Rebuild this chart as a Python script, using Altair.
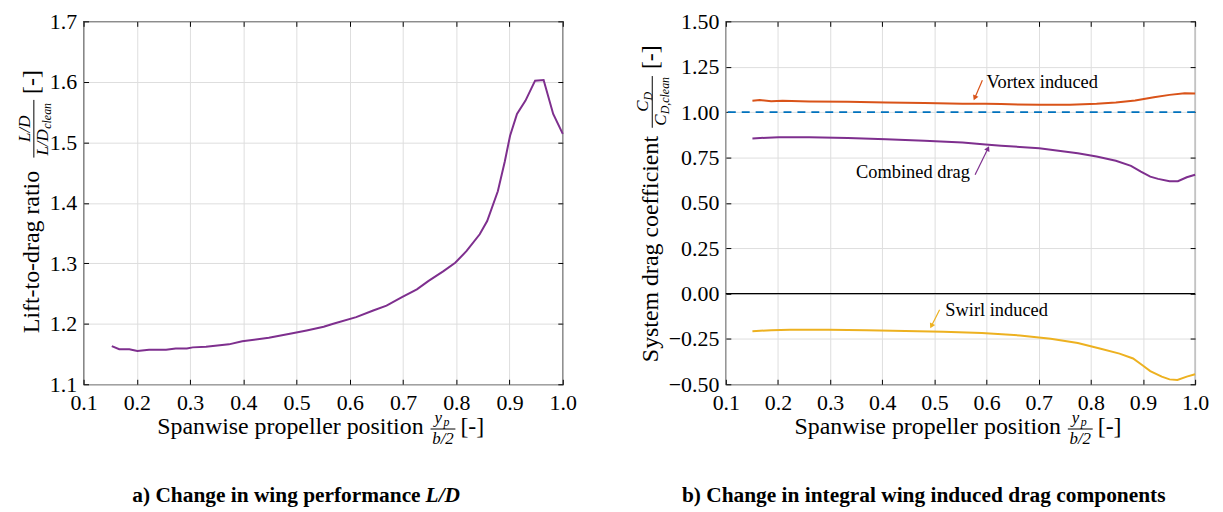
import math
import altair as alt
import pandas as pd

# ---------------- data ----------------
ld_x = [0.153, 0.167, 0.186, 0.201, 0.223, 0.255, 0.273, 0.294, 0.305, 0.330, 0.373, 0.398,
        0.448, 0.490, 0.519, 0.551, 0.569, 0.612, 0.644, 0.669, 0.698, 0.726, 0.748, 0.776,
        0.798, 0.819, 0.844, 0.858, 0.878, 0.891, 0.901, 0.914, 0.930, 0.948, 0.964, 0.982, 1.000]
ld_y = [1.163, 1.158, 1.158, 1.155, 1.157, 1.157, 1.159, 1.159, 1.161, 1.162, 1.166, 1.171,
        1.177, 1.184, 1.189, 1.195, 1.200, 1.211, 1.222, 1.230, 1.244, 1.257, 1.271, 1.287,
        1.301, 1.320, 1.348, 1.370, 1.419, 1.468, 1.511, 1.547, 1.569, 1.602, 1.603, 1.547, 1.514]

vortex_x = [0.151, 0.165, 0.187, 0.209, 0.260, 0.334, 0.407, 0.481, 0.554, 0.598, 0.628,
            0.701, 0.760, 0.811, 0.848, 0.885, 0.921, 0.951, 0.980, 1.000]
vortex_y = [1.062, 1.066, 1.060, 1.062, 1.059, 1.057, 1.053, 1.050, 1.046, 1.046, 1.044,
            1.040, 1.040, 1.046, 1.053, 1.064, 1.082, 1.095, 1.104, 1.102]

combined_x = [0.151, 0.201, 0.260, 0.334, 0.407, 0.481, 0.554, 0.598, 0.628, 0.701, 0.775,
              0.811, 0.848, 0.877, 0.896, 0.914, 0.929, 0.951, 0.967, 0.984, 1.000]
combined_y = [0.855, 0.862, 0.861, 0.857, 0.850, 0.842, 0.832, 0.822, 0.815, 0.801, 0.773,
              0.755, 0.732, 0.704, 0.672, 0.644, 0.632, 0.619, 0.619, 0.641, 0.655]

swirl_x = [0.151, 0.187, 0.223, 0.297, 0.370, 0.444, 0.517, 0.591, 0.664, 0.723, 0.775,
           0.819, 0.855, 0.881, 0.899, 0.914, 0.936, 0.951, 0.966, 0.984, 1.000]
swirl_y = [-0.208, -0.202, -0.200, -0.200, -0.202, -0.206, -0.211, -0.218, -0.231, -0.249, -0.273,
           -0.304, -0.331, -0.358, -0.395, -0.427, -0.458, -0.473, -0.476, -0.458, -0.445]

x_ticks = [0.1, 0.2, 0.3, 0.4, 0.5, 0.6, 0.7, 0.8, 0.9, 1.0]
ld_ticks = [1.1, 1.2, 1.3, 1.4, 1.5, 1.6, 1.7]
cd_ticks = [-0.5, -0.25, 0.0, 0.25, 0.5, 0.75, 1.0, 1.25, 1.5]
ref_level = [1.0]
zero_level = [0.0]

ann_text = ["Vortex induced", "Combined drag", "Swirl induced"]
ann_text_x = [0.600, 0.568, 0.521]
ann_text_y = [1.168, 0.668, -0.090]
ann_align = ["left", "right", "left"]
arrow_x0 = [0.592, 0.578, 0.510]
arrow_y0 = [1.175, 0.655, -0.089]
arrow_x1 = [0.578, 0.602, 0.495]
arrow_y1 = [1.082, 0.795, -0.175]

# ---------------- style ----------------
PURPLE = "#7E2F8E"
ORANGE = "#D95319"
YELLOW = "#EDB120"
BLUE = "#0072BD"
GRID = "#DEDEDE"
FONT = "Liberation Serif"
WL, WR, H = 482, 472, 365
TICK = 5
TS = 24      # axis title size
FS = 17      # fraction size
SS = 12      # subscript size

xs = alt.Scale(domain=[0.1, 1.0], nice=False, zero=False)
ys_l = alt.Scale(domain=[1.1, 1.7], nice=False, zero=False)
ys_r = alt.Scale(domain=[-0.5, 1.5], nice=False, zero=False)


def frame(df, ys, yticks, yfmt):
    """Grid + labels layer and two inward-tick layers."""
    base = alt.Chart(df)
    main = base.mark_line(opacity=0).encode(
        x=alt.X("x:Q", scale=xs, axis=alt.Axis(orient="bottom", values=x_ticks, format=".1f",
                                               grid=True, tickSize=0, domain=False, labelPadding=8,
                                               labelFlush=False, labelOverlap=False, title=None)),
        y=alt.Y("y:Q", scale=ys, axis=alt.Axis(orient="left", values=yticks, format=yfmt,
                                               grid=True, tickSize=0, domain=False, labelPadding=7,
                                               labelFlush=False, labelOverlap=False, title=None)),
    )
    t1 = base.mark_line(opacity=0).encode(
        x=alt.X("x:Q", scale=xs, axis=alt.Axis(orient="bottom", values=x_ticks, offset=-TICK,
                                               tickSize=TICK, labels=False, grid=False, domain=False,
                                               title=None)),
        y=alt.Y("y:Q", scale=ys, axis=alt.Axis(orient="left", values=yticks, offset=-TICK,
                                               tickSize=TICK, labels=False, grid=False, domain=False,
                                               title=None)),
    )
    t2 = base.mark_line(opacity=0).encode(
        x=alt.X("x:Q", scale=xs, axis=alt.Axis(orient="top", values=x_ticks, offset=-TICK,
                                               tickSize=TICK, labels=False, grid=False, domain=False,
                                               title=None)),
        y=alt.Y("y:Q", scale=ys, axis=alt.Axis(orient="right", values=yticks, offset=-TICK,
                                               tickSize=TICK, labels=False, grid=False, domain=False,
                                               title=None)),
    )
    return [main, t1, t2]


def txt(s, x, y, size=TS, angle=0, align="center", italic=False, bold=False):
    kw = dict(font=FONT, fontSize=size, align=align, baseline="alphabetic", color="black")
    if angle:
        kw["angle"] = angle
    if italic:
        kw["fontStyle"] = "italic"
    if bold:
        kw["fontWeight"] = "bold"
    return alt.Chart(pd.DataFrame({"t": [s]})).mark_text(**kw).encode(
        text="t:N", x=alt.value(x), y=alt.value(y))


def bar(x1, y1, x2, y2):
    return alt.Chart(pd.DataFrame({"t": [0]})).mark_rule(color="black", strokeWidth=1).encode(
        x=alt.value(x1), y=alt.value(y1), x2=alt.value(x2), y2=alt.value(y2))


def xtitle(cx):
    return [
        txt("Spanwise propeller position", cx + 101, 415, align="right"),
        txt("y", cx + 112, 404, size=FS, align="left", italic=True),
        txt("p", cx + 121, 407, size=SS, align="left", italic=True),
        bar(cx + 108, 410, cx + 133, 410),
        txt("b/2", cx + 120.5, 425, size=FS, italic=True),
        txt("[-]", cx + 150, 415),
    ]


def line(xv, yv, color, ys):
    df = pd.DataFrame({"x": xv, "y": yv})
    return alt.Chart(df).mark_line(color=color, strokeWidth=2).encode(
        x=alt.X("x:Q", scale=xs, axis=None), y=alt.Y("y:Q", scale=ys, axis=None))


# ---------------- left panel ----------------
df_ld = pd.DataFrame({"x": ld_x, "y": ld_y})
left_layers = frame(df_ld, ys_l, ld_ticks, ".1f") + [line(ld_x, ld_y, PURPLE, ys_l)]
left_layers += [
    txt("Lift-to-drag ratio", -45, 232, angle=270),
    txt("L/D", -54, 108, size=FS, angle=270, italic=True),
    bar(-50, 79, -50, 137),
    txt("L/D", -36, 135, size=FS, angle=270, align="left", italic=True),
    txt("clean", -33, 108, size=SS, angle=270, align="left", italic=True),
    txt("[-]", -45, 61, angle=270),
]
left_layers += xtitle(WL / 2)
left_layers += [
    txt("a) Change in wing performance", 339, 483, size=21.5, align="right", bold=True),
    txt("L/D", 344, 483, size=21.5, align="left", bold=True, italic=True),
]
left = alt.layer(*left_layers).resolve_axis(x="independent", y="independent").properties(
    width=WL, height=H)

# ---------------- right panel ----------------
df_v = pd.DataFrame({"x": vortex_x, "y": vortex_y})
ref_df = pd.DataFrame({"y": ref_level})
zero_df = pd.DataFrame({"y": zero_level})
ref_rule = alt.Chart(ref_df).mark_rule(color=BLUE, strokeWidth=1.6, strokeDash=[8, 6]).encode(
    y=alt.Y("y:Q", scale=ys_r, axis=None))
zero_rule = alt.Chart(zero_df).mark_rule(color="black", strokeWidth=1.3).encode(
    y=alt.Y("y:Q", scale=ys_r, axis=None))

ann = pd.DataFrame({"t": ann_text, "x": ann_text_x, "y": ann_text_y, "al": ann_align,
                    "x0": arrow_x0, "y0": arrow_y0, "x1": arrow_x1, "y1": arrow_y1,
                    "c": [ORANGE, PURPLE, YELLOW]})
ann["ang"] = [
    (math.degrees(math.atan2((a1 - a0) / 0.9 * WR, (b1 - b0) / 2.0 * H)) + 360) % 360
    for a0, b0, a1, b1 in zip(arrow_x0, arrow_y0, arrow_x1, arrow_y1)
]

ann_layers = []
for i in range(3):
    row = ann.iloc[[i]]
    ann_layers.append(alt.Chart(row).mark_text(font=FONT, fontSize=18.5, align=ann_align[i],
                                               baseline="middle", color="black").encode(
        text="t:N", x=alt.X("x:Q", scale=xs, axis=None), y=alt.Y("y:Q", scale=ys_r, axis=None)))
    ann_layers.append(alt.Chart(row).mark_rule(color=ann["c"][i], strokeWidth=1.2).encode(
        x=alt.X("x0:Q", scale=xs, axis=None), y=alt.Y("y0:Q", scale=ys_r, axis=None),
        x2="x1:Q", y2="y1:Q"))
    ann_layers.append(alt.Chart(row).mark_point(shape="triangle", filled=True, size=35,
                                                color=ann["c"][i], opacity=1,
                                                angle=float(ann["ang"][i])).encode(
        x=alt.X("x1:Q", scale=xs, axis=None), y=alt.Y("y1:Q", scale=ys_r, axis=None)))

right_layers = frame(df_v, ys_r, cd_ticks, ".2f") + [
    ref_rule, zero_rule,
    line(vortex_x, vortex_y, ORANGE, ys_r),
    line(combined_x, combined_y, PURPLE, ys_r),
    line(swirl_x, swirl_y, YELLOW, ys_r),
] + ann_layers
right_layers += [
    txt("System drag coefficient", -68, 229, angle=270),
    txt("C", -78, 91, size=FS, angle=270, align="left", italic=True),
    txt("D", -74.5, 79.5, size=SS, angle=270, align="left", italic=True),
    bar(-74, 55, -74, 107),
    txt("C", -60, 105, size=FS, angle=270, align="left", italic=True),
    txt("D,clean", -57, 93.5, size=SS, angle=270, align="left", italic=True),
    txt("[-]", -68, 36, angle=270),
]
right_layers += xtitle(WR / 2)
right_layers += [
    txt("b) Change in integral wing induced drag components", 199, 483, size=21.5, bold=True),
]
right = alt.layer(*right_layers).resolve_axis(x="independent", y="independent").properties(
    width=WR, height=H)

chart = alt.hconcat(left, right, spacing=164, bounds="flush").properties(
    padding={"left": 7, "top": 0, "right": 5, "bottom": 0}
).configure_view(stroke="black", strokeWidth=1.2).configure_axis(
    labelFont=FONT, labelFontSize=22, labelColor="black", gridColor=GRID, gridWidth=1,
    tickColor="black", tickWidth=1
)

chart.save("out.html", embed_options={"renderer": "svg", "actions": False})
